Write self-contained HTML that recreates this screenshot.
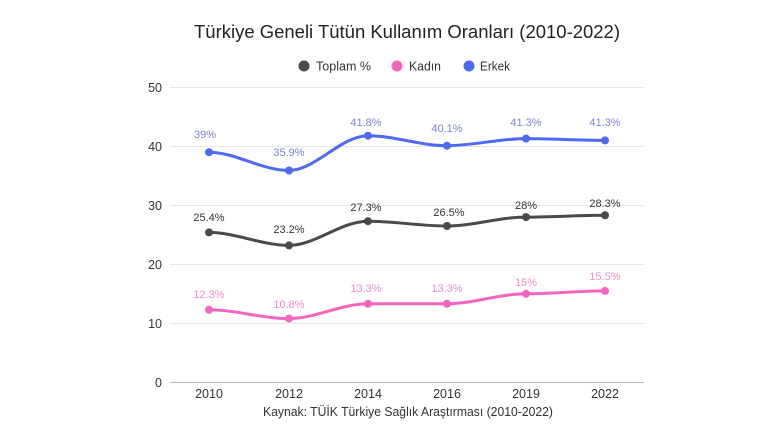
<!DOCTYPE html>
<html><head><meta charset="utf-8"><style>html,body{margin:0;padding:0;background:#fff}svg{display:block}</style></head>
<body>
<svg width="760" height="428" viewBox="0 0 760 428" xmlns="http://www.w3.org/2000/svg" font-family="'Liberation Sans', sans-serif">
<rect width="760" height="428" fill="#fff"/>
<text x="407" y="38" text-anchor="middle" font-size="18" fill="#222" textLength="426" lengthAdjust="spacingAndGlyphs">Türkiye Geneli Tütün Kullanım Oranları (2010-2022)</text>
<circle cx="304" cy="66" r="5.5" fill="#4a4a4a"/><text x="316" y="70.5" font-size="12.5" fill="#333" textLength="55" lengthAdjust="spacingAndGlyphs">Toplam %</text>
<circle cx="397" cy="66" r="5.5" fill="#f565c0"/><text x="409" y="70.5" font-size="12.5" fill="#333" textLength="32" lengthAdjust="spacingAndGlyphs">Kadın</text>
<circle cx="469" cy="66" r="5.5" fill="#4f6af2"/><text x="480" y="70.5" font-size="12.5" fill="#333" textLength="30" lengthAdjust="spacingAndGlyphs">Erkek</text>
<g stroke="#e6e6e6" stroke-width="1">
<line x1="170" x2="644" y1="87.5" y2="87.5"/><line x1="170" x2="644" y1="146.5" y2="146.5"/><line x1="170" x2="644" y1="205.5" y2="205.5"/><line x1="170" x2="644" y1="264.5" y2="264.5"/><line x1="170" x2="644" y1="323.5" y2="323.5"/>
</g>
<line x1="170" x2="644" y1="382.5" y2="382.5" stroke="#bbb"/>
<g font-size="12.5" fill="#333" text-anchor="end">
<text x="162" y="92">50</text><text x="162" y="151">40</text><text x="162" y="210">30</text><text x="162" y="269">20</text><text x="162" y="328">10</text><text x="162" y="387">0</text>
</g>
<g font-size="12.5" fill="#333" text-anchor="middle">
<text x="209" y="398">2010</text><text x="289" y="398">2012</text><text x="368" y="398">2014</text><text x="447" y="398">2016</text><text x="526" y="398">2019</text><text x="605" y="398">2022</text>
</g>
<text x="408" y="416" text-anchor="middle" font-size="12.5" fill="#333" textLength="290" lengthAdjust="spacingAndGlyphs">Kaynak: TÜİK Türkiye Sağlık Araştırması (2010-2022)</text>
<g fill="none" stroke-width="3" stroke-linecap="round">
<path stroke="#4f6af2" d="M209,152.2 C235,152.2 262,170.5 289,170.5 C315,170.5 341,135.7 368,135.7 C394,135.7 420,145.7 447,145.7 C473,145.7 499,138.6 526,138.6 C552,138.6 578,140.4 605,140.4"/>
<path stroke="#4a4a4a" d="M209,232.4 C235,232.4 262,245.4 289,245.4 C315,245.4 341,221.2 368,221.2 C394,221.2 420,226 447,226 C473,226 499,217.1 526,217.1 C552,217.1 578,215.3 605,215.3"/>
<path stroke="#f565c0" d="M209,309.7 C235,309.7 262,318.6 289,318.6 C315,318.6 341,303.8 368,303.8 C394,303.8 420,303.8 447,303.8 C473,303.8 499,293.8 526,293.8 C552,293.8 578,290.9 605,290.9"/>
</g>
<g fill="#4f6af2"><circle cx="209" cy="152.2" r="4"/><circle cx="289" cy="170.5" r="4"/><circle cx="368" cy="135.7" r="4"/><circle cx="447" cy="145.7" r="4"/><circle cx="526" cy="138.6" r="4"/><circle cx="605" cy="140.4" r="4"/></g>
<g fill="#4a4a4a"><circle cx="209" cy="232.4" r="4"/><circle cx="289" cy="245.4" r="4"/><circle cx="368" cy="221.2" r="4"/><circle cx="447" cy="226" r="4"/><circle cx="526" cy="217.1" r="4"/><circle cx="605" cy="215.3" r="4"/></g>
<g fill="#f565c0"><circle cx="209" cy="309.7" r="4"/><circle cx="289" cy="318.6" r="4"/><circle cx="368" cy="303.8" r="4"/><circle cx="447" cy="303.8" r="4"/><circle cx="526" cy="293.8" r="4"/><circle cx="605" cy="290.9" r="4"/></g>
<g font-size="11" text-anchor="middle" fill="#7c82d8">
<text x="205" y="138">39%</text><text x="289" y="156">35.9%</text><text x="366" y="126">41.8%</text><text x="447" y="132">40.1%</text><text x="526" y="126">41.3%</text><text x="605" y="126">41.3%</text>
</g>
<g font-size="11" text-anchor="middle" fill="#333">
<text x="209" y="221">25.4%</text><text x="289" y="233">23.2%</text><text x="366" y="211">27.3%</text><text x="449" y="216">26.5%</text><text x="526" y="209">28%</text><text x="605" y="207">28.3%</text>
</g>
<g font-size="11" text-anchor="middle" fill="#ef8ccb">
<text x="209" y="298">12.3%</text><text x="289" y="308">10.8%</text><text x="366" y="292">13.3%</text><text x="447" y="292">13.3%</text><text x="526" y="286">15%</text><text x="605" y="280">15.5%</text>
</g>
</svg>
</body></html>
